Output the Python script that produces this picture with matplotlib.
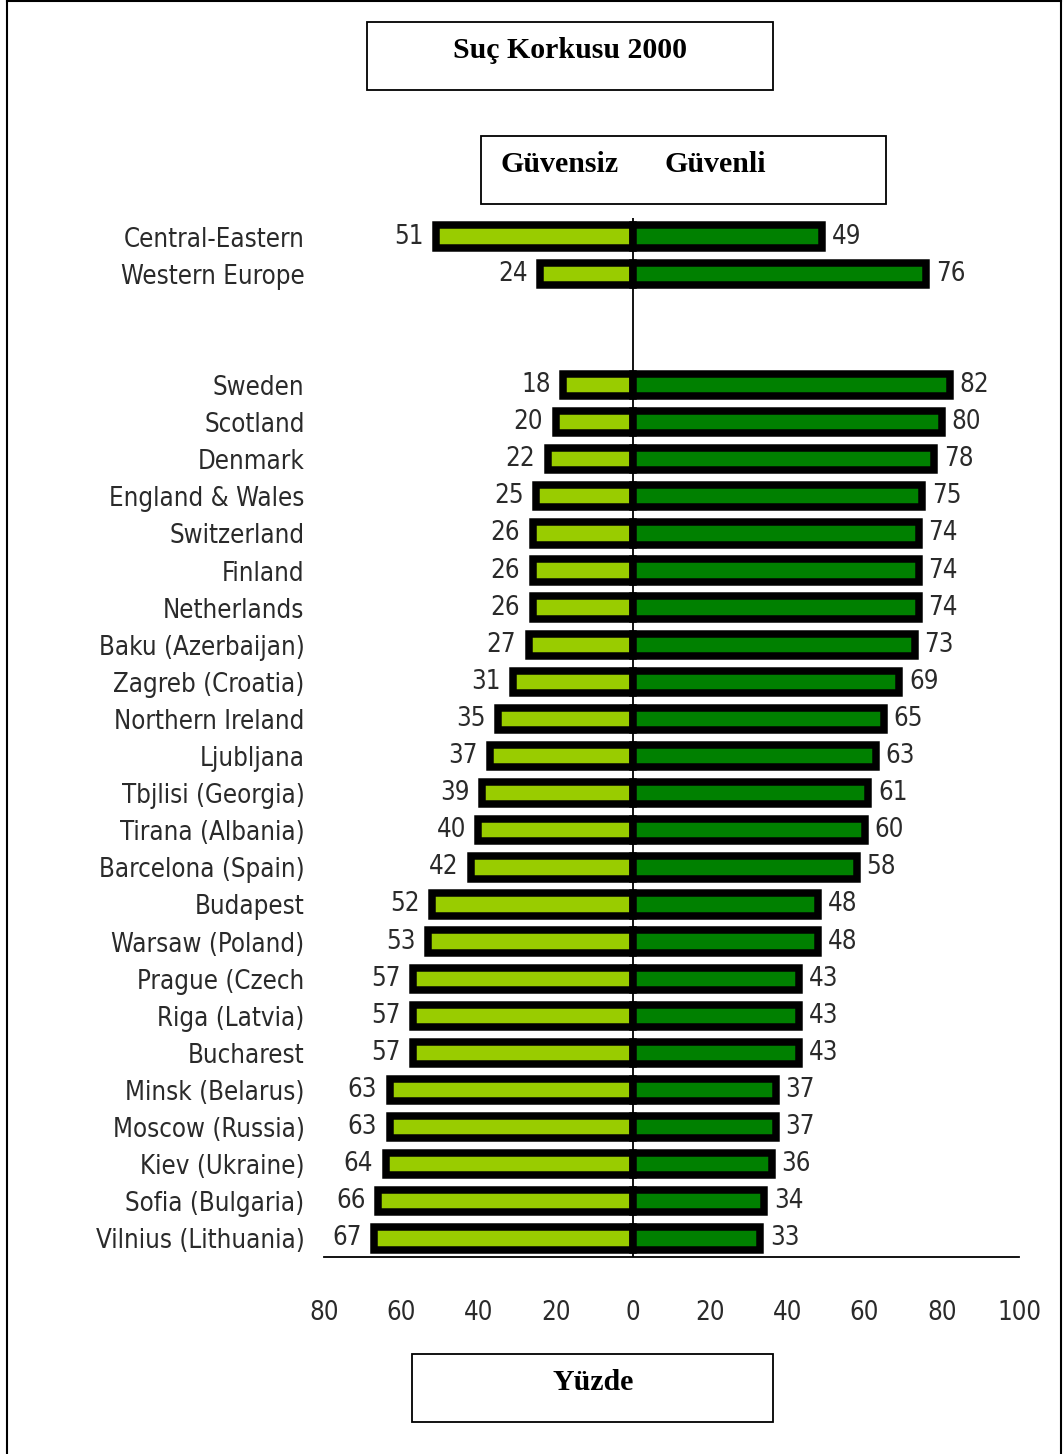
import numpy as np
import matplotlib.pyplot as plt
from matplotlib.patches import Rectangle
from matplotlib.lines import Line2D

# Data (percent): left = Güvensiz (unsafe), right = Güvenli (safe)
groups = ["Central-Eastern", "Western Europe"]
groups_unsafe = [51, 24]
groups_safe = [49, 76]

cities = ["Sweden", "Scotland", "Denmark", "England & Wales", "Switzerland",
          "Finland", "Netherlands", "Baku (Azerbaijan)", "Zagreb (Croatia)",
          "Northern Ireland", "Ljubljana", "Tbjlisi (Georgia)", "Tirana (Albania)",
          "Barcelona (Spain)", "Budapest", "Warsaw (Poland)", "Prague (Czech",
          "Riga (Latvia)", "Bucharest", "Minsk (Belarus)", "Moscow (Russia)",
          "Kiev (Ukraine)", "Sofia (Bulgaria)", "Vilnius (Lithuania)"]
cities_unsafe = [18, 20, 22, 25, 26, 26, 26, 27, 31, 35, 37, 39, 40, 42,
                 52, 53, 57, 57, 57, 63, 63, 64, 66, 67]
cities_safe = [82, 80, 78, 75, 74, 74, 74, 73, 69, 65, 63, 61, 60, 58,
               48, 48, 43, 43, 43, 37, 37, 36, 34, 33]

xticks = [-80, -60, -40, -20, 0, 20, 40, 60, 80, 100]

LIGHT = "#99cc00"
DARK = "#008000"
TXT = "#2a2a2a"
SANS = dict(family="DejaVu Sans", stretch="condensed")
SERIF = ["Liberation Serif", "DejaVu Serif"]
FS = 18.5

labels = groups + cities
unsafe = np.array(groups_unsafe + cities_unsafe)
safe = np.array(groups_safe + cities_safe)
# two summary rows, then a gap of two rows before the cities
pos = np.concatenate([np.arange(len(groups)), np.arange(len(cities)) + len(groups) + 2])

fig = plt.figure(figsize=(10.63, 14.54), dpi=100)
ax = fig.add_axes([324 / 1063, 197 / 1454, 695 / 1063, 1039 / 1454])

bh = 0.6
ax.barh(pos, -unsafe, height=bh, color=LIGHT, edgecolor="black", linewidth=5.4, zorder=2)
ax.barh(pos, safe, height=bh, color=DARK, edgecolor="black", linewidth=5.4, zorder=2)
ax.axvline(0, color="black", lw=1.3, zorder=3)

for y, u, s in zip(pos, unsafe, safe):
    ax.annotate(str(u), (-u, y), xytext=(-9, 0), textcoords="offset points",
                ha="right", va="center", fontsize=FS, color=TXT, **SANS)
    ax.annotate(str(s), (s, y), xytext=(7, 0), textcoords="offset points",
                ha="left", va="center", fontsize=FS, color=TXT, **SANS)

ax.set_xlim(-80, 100)
ax.set_ylim(27.5, -0.5)
ax.set_yticks(pos)
ax.set_yticklabels(labels, fontsize=FS, color=TXT, **SANS)
ax.set_xticks(xticks)
ax.set_xticklabels([str(abs(t)) for t in xticks], fontsize=FS, color=TXT, **SANS)
ax.tick_params(axis="y", length=0, pad=14)
ax.tick_params(axis="x", length=0, pad=31)
for side in ["left", "top", "right"]:
    ax.spines[side].set_visible(False)
ax.spines["bottom"].set_linewidth(1.3)

# Boxed captions
def box(x0, y0, x1, y1):
    W, H = 1063, 1454
    fig.patches.append(Rectangle((x0 / W, 1 - y1 / H), (x1 - x0) / W, (y1 - y0) / H,
                                 transform=fig.transFigure, fill=False,
                                 edgecolor="black", linewidth=1.3))

box(367, 22, 773, 90)
fig.text(570 / 1063, 1 - 51 / 1454, "Suç Korkusu 2000", ha="center", va="center",
         fontsize=21.5, fontweight="bold", family=SERIF)
box(481, 136, 886, 204)
fig.text(560 / 1063, 1 - 165 / 1454, "Güvensiz", ha="center", va="center",
         fontsize=21.5, fontweight="bold", family=SERIF)
fig.text(715 / 1063, 1 - 165 / 1454, "Güvenli", ha="center", va="center",
         fontsize=21.5, fontweight="bold", family=SERIF)
box(412, 1354, 773, 1422)
fig.text(593 / 1063, 1 - 1383 / 1454, "Yüzde", ha="center", va="center",
         fontsize=21.5, fontweight="bold", family=SERIF)

# outer frame
for xs, ys in [([7, 7], [1, 1454]), ([7, 1061], [1, 1]), ([1061, 1061], [1, 1454])]:
    fig.lines.append(Line2D([x / 1063 for x in xs], [1 - y / 1454 for y in ys],
                            transform=fig.transFigure, color="black", lw=1.5))

fig.savefig("out.png", dpi=100)
